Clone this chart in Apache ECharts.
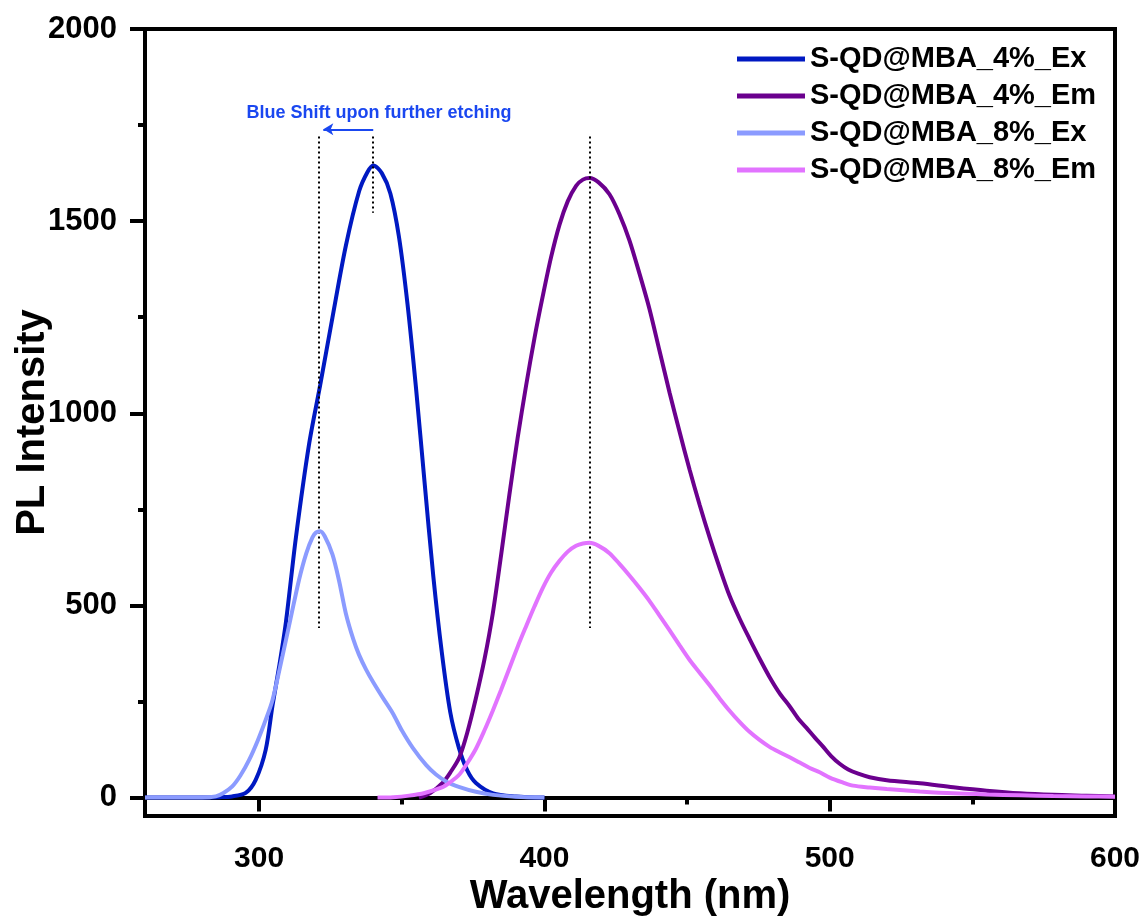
<!DOCTYPE html>
<html><head><meta charset="utf-8">
<script src="https://cdn.jsdelivr.net/npm/echarts@6/dist/echarts.min.js"></script>
<style>html,body{margin:0;padding:0;background:#fff}#c{width:1148px;height:918px}</style>
</head><body><div id="c"></div>
<script>
// ---- data ----
const seriesNames = ['S-QD@MBA_4%_Ex','S-QD@MBA_4%_Em','S-QD@MBA_8%_Ex','S-QD@MBA_8%_Em'];
const ex4_wl = [260,270,280,286,290.5,295.3,298.8,302.3,304.7,307,309.4,312.9,317.5,321.4,325.7,330.4,335.1,338,340,343,346,349,352,355,358,361,364,367,370,373,376,382,390,400];
const ex4_val = [0,0,0,1,3,12,46,124,240,340,457,677,919,1073,1249,1436,1579,1628,1645,1625,1572,1460,1285,1065,820,580,380,222,130,70,38,11,3,0];
const em4_wl = [356,360,364.3,367,370.2,373,376,379,381.9,384.8,387.7,390.6,393.6,396.5,399.4,402.3,405.3,408.2,411.1,413.5,415.8,419,422.8,426.3,429.8,433.3,436.8,440.3,443.9,447.4,450.9,454.4,457.9,461.4,464.9,468.4,471.9,475.4,478.9,482.4,486,489,491.8,494.8,497.5,500.5,503.5,506.5,510,514,520,531.6,543.3,555,566.7,578.4,590,600];
const em4_val = [0,12,38,65,105,170,259,360,479,630,787,935,1073,1195,1304,1405,1491,1552,1592,1608,1612,1601,1570,1518,1450,1364,1272,1164,1053,951,853,762,677,598,525,466,413,362,314,272,237,205,182,156,134,108,88,73,62,53,45,37,27,18,11,7,5,3];
const ex8_wl = [260,270,280,284.8,287.5,290.6,293.5,296.5,299.5,302.3,304.7,308.2,311,314,316.5,318.7,320,321.4,323,325.7,328,330.4,333,335,337.5,340,343.5,346.8,350,353.8,358.5,362,366,370,376,382,390,400];
const ex8_val = [0,0,0,3,12,29,58,98,148,202,254,369,465,567,635,677,690,693,680,633,565,479,412,372,333,300,258,220,175,130,85,60,40,28,15,7,2,0];
const em8_wl = [341.5,347,352.6,358,364.3,367,370.2,373,376,379,381.9,384.8,387.7,390.6,393.6,396.5,399.4,402.3,405.3,408.2,411.1,413.5,415.8,419,422.8,426.3,429.8,433.3,436.8,440.3,443.9,447.4,450.9,454.4,457.9,461.4,464.9,468.4,471.9,475.4,478.9,482.4,486,489.5,493,496.5,500,504.7,508.2,514,520,531.6,543.3,555,566.7,578.4,590,600];
const em8_val = [0,1,5,12,27,40,60,90,127,175,226,280,336,392,446,497,545,585,616,640,655,661,663,655,636,608,578,546,512,474,435,396,358,325,292,258,226,197,171,150,132,118,105,91,77,66,52,39,31,26,22,16,11,8,6,4,3,2];

const xTicks = [300,400,500,600];
const xMinorTicks = [350,450,550];
const yTicks = [0,500,1000,1500,2000];
const yMinorTicks = [250,750,1250,1750];

// annotation guide lines (data coords)
const guideX = [320.8, 340, 415.8];
const guideTop = [1720, 1720, 1720];
const guideBottom = [441, 1522, 441];
const arrowFrom = [340, 1739];
const arrowTo = [322.5, 1739];
const noteText = 'Blue Shift upon further etching';
const notePos = [342, 1782];

const colors = ['#0019c2','#6b008e','#8b9bff','#e273ff'];
const FONT = 'Liberation Sans, Arial, sans-serif';

function pairs(xs, ys){ return xs.map((x,i)=>[x, ys[i]]); }
const dataSets = [pairs(ex4_wl,ex4_val), pairs(em4_wl,em4_val), pairs(ex8_wl,ex8_val), pairs(em8_wl,em8_val)];

const chart = echarts.init(document.getElementById('c'), null, {renderer:'canvas'});

const axisLineStyle = {color:'#000', width:4};
const series = dataSets.map((d,i)=>({
  name: seriesNames[i], type:'line', data:d, showSymbol:false, symbol:'none',
  smooth:0.3, color: colors[i], lineStyle:{color:colors[i], width:4},
  itemStyle:{color:colors[i]}, z: 3+i, animation:false
}));
series[0].markLine = {
  silent:true, symbol:'none', animation:false,
  lineStyle:{color:'#000', width:2, type:[2,3]},
  label:{show:false},
  data: guideX.map((x,i)=>[{coord:[x, guideTop[i]]},{coord:[x, guideBottom[i]]}])
};
series[1].markLine = {
  silent:true, symbol:['none','arrow'], symbolSize:[9,10], animation:false,
  lineStyle:{color:'#1a47f0', width:2, type:'solid'},
  label:{show:false},
  data: [[{coord:arrowFrom},{coord:arrowTo}]]
};

const plainLabel = v => String(v);

const option = {
  backgroundColor:'#fff',
  animation:false,
  grid:{left:145, right:33, top:29, bottom:102, containLabel:false, outerBoundsMode:'none',
        show:true, borderColor:'#000', borderWidth:4, backgroundColor:'transparent'},
  legend:{
    orient:'vertical', left:737, top:44, padding:0, itemGap:7,
    icon:'rect', itemWidth:68, itemHeight:5,
    textStyle:{fontFamily:FONT, fontSize:29, fontWeight:'bold', color:'#000', lineHeight:30},
    data: seriesNames
  },
  xAxis:[{
    type:'value', min:260, max:600, position:'bottom',
    name:'Wavelength (nm)', nameLocation:'middle', nameGap:61, nameMoveOverlap:false,
    nameTextStyle:{fontFamily:FONT, fontSize:40, fontWeight:'bold', color:'#000'},
    axisLine:{show:true, lineStyle:axisLineStyle},
    axisTick:{show:true, inside:false, length:14, lineStyle:axisLineStyle, customValues:xTicks},
    axisLabel:{show:true, customValues:xTicks, formatter:plainLabel, margin:28, fontFamily:FONT, fontSize:30, fontWeight:'bold', color:'#000'},
    splitLine:{show:false}
  },{
    type:'value', min:260, max:600, position:'bottom',
    axisLine:{show:false},
    axisTick:{show:true, inside:false, length:7, lineStyle:axisLineStyle, customValues:xMinorTicks},
    axisLabel:{show:false},
    splitLine:{show:false}
  }],
  yAxis:[{
    type:'value', min:-48, max:2000, position:'left',
    name:'PL Intensity', nameLocation:'middle', nameGap:92, nameMoveOverlap:false,
    nameTextStyle:{fontFamily:FONT, fontSize:40, fontWeight:'bold', color:'#000'},
    axisLine:{show:true, lineStyle:axisLineStyle},
    axisTick:{show:true, inside:false, length:15, lineStyle:axisLineStyle, customValues:yTicks},
    axisLabel:{show:true, customValues:yTicks, formatter:plainLabel, margin:28, fontFamily:FONT, fontSize:31, fontWeight:'bold', color:'#000'},
    splitLine:{show:false}
  },{
    type:'value', min:-48, max:2000, position:'left',
    axisLine:{show:false},
    axisTick:{show:true, inside:false, length:7, lineStyle:axisLineStyle, customValues:yMinorTicks},
    axisLabel:{show:false},
    splitLine:{show:false}
  }],
  series: series
};
chart.setOption(option);

const p = chart.convertToPixel({xAxisIndex:0, yAxisIndex:0}, notePos);
chart.setOption({
  graphic:[{
    type:'text', x:p[0], y:p[1], silent:true,
    style:{text:noteText, fill:'#1a47f0', font:'bold 18px ' + FONT, textAlign:'center', textVerticalAlign:'middle'}
  }]
});
</script>
</body></html>
